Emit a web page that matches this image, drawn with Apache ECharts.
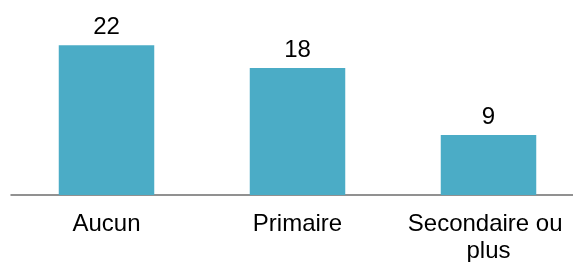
<!DOCTYPE html>
<html>
<head>
<meta charset="utf-8">
<script src="https://cdn.jsdelivr.net/npm/echarts@6/dist/echarts.min.js"></script>
<style>
  html, body { margin: 0; padding: 0; background: #fff; }
  #chart { width: 573px; height: 262px; }
</style>
</head>
<body>
<div id="chart"></div>
<script>
// niveau d'instruction
let categories = ['Aucun', 'Primaire', 'Secondaire ou plus']
let values = [21.7, 18.4, 8.7]

let myChart = echarts.init(document.getElementById('chart'))
let option = {
  animation: false,
  grid: {
    left: 11,
    right: -11,
    top: 43.2,
    bottom: 67,
    outerBoundsMode: 'none'
  },
  xAxis: {
    type: 'category',
    data: categories,
    axisLine: {lineStyle: {color: '#6e6e6e', width: 1.5}},
    axisTick: {show: false},
    axisLabel: {
      interval: 0,
      color: '#000',
      fontFamily: 'Liberation Sans',
      fontSize: 24,
      lineHeight: 27,
      margin: 16,
      width: 185,
      overflow: 'break'
    }
  },
  yAxis: {
    type: 'value',
    min: 0,
    max: 22,
    show: false,
    splitLine: {show: false}
  },
  series: [{
    type: 'bar',
    data: values,
    barWidth: '50%',
    itemStyle: {color: '#4bacc6'},
    label: {
      show: true,
      position: 'top',
      distance: 6,
      color: '#000',
      fontFamily: 'Liberation Sans',
      fontSize: 24,
      formatter: function (p) {
        return Math.round(p.value)
      }
    }
  }]
}
myChart.setOption(option)
</script>
</body>
</html>
